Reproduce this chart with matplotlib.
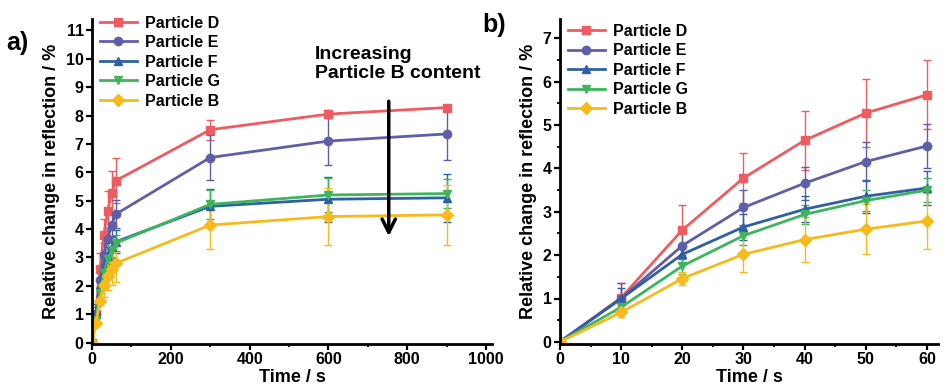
import numpy as np
import matplotlib.pyplot as plt

plt.rcParams['font.family'] = ['Liberation Sans', 'DejaVu Sans']
plt.rcParams['font.weight'] = 'bold'

names = ['Particle D', 'Particle E', 'Particle F', 'Particle G', 'Particle B']
colors = ['#EE5B60', '#5F5EA8', '#2F60A6', '#3EB55C', '#F7BA1C']
markers = ['s', 'o', '^', 'v', 'D']

# panel b: first minute
t_b = [0, 10, 20, 30, 40, 50, 60]
D_b = [0, 1.02, 2.58, 3.78, 4.65, 5.28, 5.70]
E_b = [0, 1.00, 2.22, 3.10, 3.66, 4.16, 4.52]
F_b = [0, 1.00, 2.02, 2.65, 3.06, 3.36, 3.55]
G_b = [0, 0.80, 1.75, 2.45, 2.94, 3.26, 3.50]
B_b = [0, 0.68, 1.46, 2.02, 2.36, 2.60, 2.79]
D_be = [0, 0.33, 0.57, 0.58, 0.68, 0.78, 0.80]
E_be = [0, 0.35, 0.30, 0.40, 0.38, 0.45, 0.50]
F_be = [0, 0.25, 0.20, 0.30, 0.30, 0.38, 0.40]
G_be = [0, 0.15, 0.18, 0.22, 0.22, 0.25, 0.28]
B_be = [0, 0.10, 0.15, 0.40, 0.52, 0.57, 0.65]

# panel a: long times appended
t_long = [300, 600, 900]
D_long = [7.50, 8.05, 8.28]
E_long = [6.52, 7.10, 7.35]
F_long = [4.80, 5.05, 5.10]
G_long = [4.87, 5.20, 5.25]
B_long = [4.14, 4.44, 4.50]
D_le = [0.35, 0.15, 0.06]
E_le = [0.80, 0.85, 0.90]
F_le = [0.60, 0.80, 0.85]
G_le = [0.50, 0.60, 0.50]
B_le = [0.85, 1.00, 1.05]

t_a = t_b + t_long
ys_b = [D_b, E_b, F_b, G_b, B_b]
errs_b = [D_be, E_be, F_be, G_be, B_be]
ys_a = [y + l for y, l in zip(ys_b, [D_long, E_long, F_long, G_long, B_long])]
errs_a = [e + l for e, l in zip(errs_b, [D_le, E_le, F_le, G_le, B_le])]

fig = plt.figure(figsize=(9.49, 3.92), dpi=100)
ax1 = fig.add_axes([92/949, 1-344/392, 400/949, 325/392])
ax2 = fig.add_axes([560/949, 1-344/392, 378/949, 325/392])


def draw(ax, t, ys, errs, top):
    handles = []
    for y, e, c, m, n in zip(ys, errs, colors, markers, names):
        cont = ax.errorbar(t, y, yerr=e, color=c, marker=m, markersize=6, lw=2,
                           elinewidth=1, capsize=3, capthick=1, label=n)
        handles.append(cont.lines[0])
    ax.legend(handles, names, loc='upper left', bbox_to_anchor=(0.0, top), frameon=False,
              handlelength=2.3, handletextpad=0.5, borderaxespad=0.1, labelspacing=0.28,
              prop={'weight': 'bold', 'size': 11.5})
    for s in ['top', 'right']:
        ax.spines[s].set_visible(False)
    for s in ['left', 'bottom']:
        ax.spines[s].set_linewidth(2)
    ax.tick_params(direction='out', width=1.6, length=4, labelsize=11.5, pad=2)
    ax.tick_params(which='minor', direction='out', width=1.3, length=2.5)
    ax.set_xlabel('Time / s', fontsize=13, fontweight='bold', labelpad=1)
    ax.set_ylabel('Relative change in reflection / %', fontsize=13, fontweight='bold',
                  labelpad=4)


draw(ax1, t_a, ys_a, errs_a, 1.035)
ax1.set_xlim(0, 1015)
ax1.set_ylim(-0.05, 11.4)
ax1.set_xticks(np.arange(0, 1001, 200))
ax1.set_xticks(np.arange(100, 1000, 200), minor=True)
ax1.set_yticks(np.arange(0, 12, 1))
ax1.annotate('', xy=(753, 3.65), xytext=(753, 8.6),
             arrowprops=dict(arrowstyle='->', lw=2.5, color='black', mutation_scale=24))
ax1.text(565, 10.45, 'Increasing\nParticle B content', fontsize=14, fontweight='bold',
         ha='left', va='top', linespacing=1.15)

draw(ax2, t_b, ys_b, errs_b, 1.01)
ax2.set_xlim(0, 61.8)
ax2.set_ylim(-0.05, 7.45)
ax2.set_xticks(np.arange(0, 61, 10))
ax2.set_xticks(np.arange(5, 61, 10), minor=True)
ax2.set_yticks(np.arange(0, 8, 1))
ax2.set_yticks(np.arange(0.5, 7.5, 1), minor=True)

fig.text(6/949, 1-43/392, 'a)', fontsize=18, fontweight='bold', va='center')
fig.text(482/949, 1-25/392, 'b)', fontsize=18, fontweight='bold', va='center')

fig.savefig('out.png', dpi=100)
